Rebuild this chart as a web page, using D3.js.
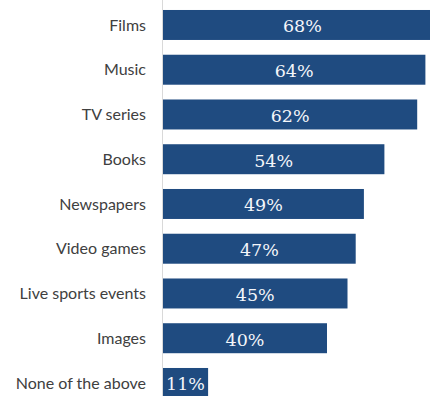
<!DOCTYPE html>
<html>
<head>
<meta charset="utf-8">
<script src="https://cdn.jsdelivr.net/npm/d3@7"></script>
<style>
  html, body { margin: 0; padding: 0; background: #ffffff; }
  svg { display: block; }
</style>
</head>
<body>
<svg id="chart" width="430" height="396"></svg>
<script>
// Share of respondents by type of content
const categories = ["Films", "Music", "TV series", "Books", "Newspapers", "Video games", "Live sports events", "Images", "None of the above"];
const values = [68, 64, 62, 54, 49, 47, 45, 40, 11];

const svg = d3.select("#chart");
const left = 163;

const x = d3.scaleLinear().domain([0, 68]).range([left, left + 68 * 4.1]);
const y = d3.scaleBand()
  .domain(categories)
  .range([2.6, 2.6 + 9 * 44.75])
  .paddingInner(0.33)
  .paddingOuter(0.165);

// vertical baseline
svg.append("line")
  .attr("x1", left - 0.5).attr("x2", left - 0.5)
  .attr("y1", 0).attr("y2", 396)
  .attr("stroke", "#d9d9d9").attr("stroke-width", 1);

const data = categories.map((c, i) => ({ c, v: values[i] }));

svg.append("g").selectAll("rect")
  .data(data).join("rect")
  .attr("x", x(0))
  .attr("y", d => y(d.c))
  .attr("width", d => x(d.v) - x(0))
  .attr("height", y.bandwidth())
  .attr("fill", "#1f4b80");

// value labels
svg.append("g").selectAll("text")
  .data(data).join("text")
  .attr("x", d => (x(0) + x(d.v)) / 2)
  .attr("y", d => y(d.c) + y.bandwidth() / 2)
  .attr("dy", "0.42em")
  .attr("text-anchor", "middle")
  .attr("font-family", "'DejaVu Serif', serif")
  .attr("font-size", 17.5)
  .attr("fill", "#f4f6fa")
  .text(d => d.v + "%");

// category labels
svg.append("g").selectAll("text")
  .data(data).join("text")
  .attr("x", 146)
  .attr("y", d => y(d.c) + y.bandwidth() / 2)
  .attr("dy", "0.35em")
  .attr("text-anchor", "end")
  .attr("font-family", "Lato, sans-serif")
  .attr("font-size", 16)
  .attr("fill", "#404040")
  .text(d => d.c);
</script>
</body>
</html>
